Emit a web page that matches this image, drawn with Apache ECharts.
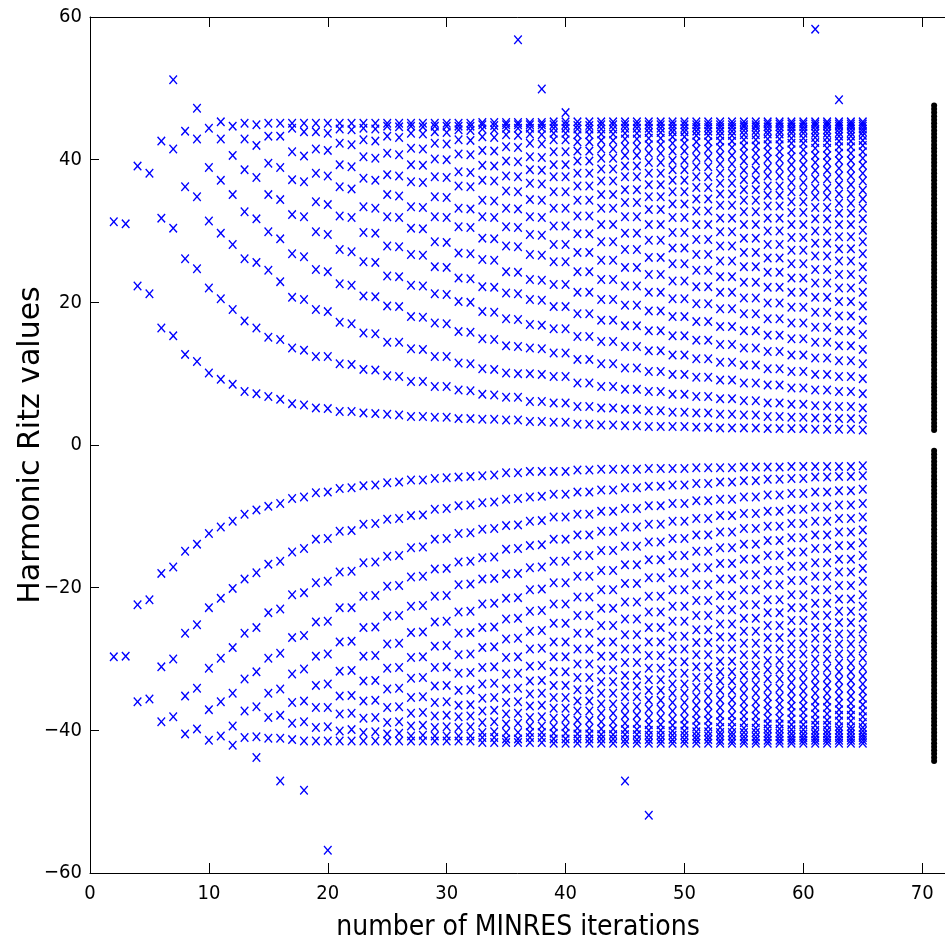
<!DOCTYPE html>
<html>
<head>
<meta charset="utf-8">
<script src="https://cdn.jsdelivr.net/npm/echarts@6/dist/echarts.min.js"></script>
<style>
html,body{margin:0;padding:0;background:#fff;}
#chart{width:945px;height:943px;}
</style>
</head>
<body>
<div id="chart"></div>
<script>
// MINRES iteration numbers (x positions of the Ritz-value columns)
const iterations = [2,3,4,5,6,7,8,9,10,11,12,13,14,15,16,17,18,19,20,21,22,23,24,25,26,27,28,29,30,31,32,33,34,35,36,37,38,39,40,41,42,43,44,45,46,47,48,49,50,51,52,53,54,55,56,57,58,59,60,61,62,63,64,65];

// positive harmonic Ritz values, one list per iteration (same order as iterations)
const posRitz = [
[31.3],
[31.0],
[39.1,22.3],
[38.1,21.2],
[42.6,31.8,16.4],
[51.2,41.5,30.4,15.3],
[44.0,36.2,26.1,12.7],
[47.2,42.9,34.8,24.7,11.7],
[44.4,38.9,31.4,22.0,10.1],
[45.3,42.9,37.1,29.7,20.5,9.2],
[44.7,40.6,35.1,28.1,19.0,8.5],
[45.1,42.9,38.6,32.7,26.1,17.4,7.5],
[44.9,42.0,37.5,31.7,25.6,16.4,7.2],
[45.1,43.3,39.5,35.1,29.9,24.5,15.1,6.8],
[45.1,43.3,38.9,34.4,28.9,22.9,14.8,6.4],
[45.1,44.4,41.1,37.2,32.3,26.8,20.7,13.6,5.8],
[45.1,43.9,40.5,36.9,32.0,26.4,20.4,13.3,5.6],
[45.1,43.9,41.5,38.1,34.1,29.9,24.6,19.0,12.4,5.2],
[45.1,43.7,41.3,37.7,33.7,29.5,24.3,18.7,12.4,5.1],
[45.1,44.3,42.3,39.3,36.2,32.1,27.4,22.6,17.2,11.4,4.7],
[45.1,44.2,42.1,39.0,35.9,31.9,27.1,22.4,17.0,11.3,4.7],
[45.1,44.4,42.8,40.4,37.4,33.4,29.8,25.7,20.9,15.7,10.6,4.5],
[45.1,44.3,42.6,40.2,37.1,33.2,29.7,25.6,20.8,15.6,10.5,4.4],
[45.1,44.7,43.3,40.9,37.9,35.1,32.0,27.9,23.7,19.5,14.4,9.7,4.3],
[45.1,44.6,43.1,40.7,37.7,34.9,31.9,27.8,23.6,19.4,14.4,9.6,4.2],
[45.1,44.7,43.7,41.6,39.3,36.9,33.4,30.4,26.7,22.4,18.0,13.5,8.9,4.0],
[45.1,44.6,43.6,41.5,39.2,36.8,33.3,30.3,26.6,22.3,17.9,13.4,8.9,4.0],
[45.1,44.7,43.9,42.3,40.1,37.6,34.8,32.0,28.5,25.0,21.2,17.1,12.4,8.2,3.9],
[45.1,44.7,43.8,42.2,40.0,37.5,34.7,31.9,28.4,24.9,21.1,17.0,12.4,8.2,3.9],
[45.1,44.7,44.2,42.8,40.8,38.3,36.3,33.2,30.6,26.9,23.4,20.1,15.9,11.5,7.7,3.7],
[45.1,44.7,44.1,42.7,40.7,38.2,36.2,33.1,30.5,26.8,23.3,20.0,15.8,11.4,7.6,3.7],
[45.2,44.9,44.3,43.2,41.3,39.2,37.1,34.3,32.0,29.0,26.0,22.2,18.7,14.9,10.7,7.1,3.6],
[45.2,44.8,44.2,43.1,41.2,39.1,37.0,34.2,31.9,28.9,25.9,22.1,18.6,14.8,10.6,7.0,3.6],
[45.2,44.9,44.4,43.5,41.8,39.8,37.7,35.6,33.2,30.6,27.9,24.3,21.3,17.7,13.9,10.1,6.7,3.5],
[56.8,45.2,44.9,44.4,43.4,41.7,39.7,37.6,35.5,33.1,30.5,27.8,24.2,21.2,17.6,13.8,10.0,6.7,3.5],
[45.2,44.9,44.4,43.6,42.3,40.4,38.6,36.7,34.4,32.0,29.5,26.7,23.2,20.4,16.9,13.6,10.0,6.1,3.3],
[49.9,45.2,44.9,44.4,43.5,42.2,40.3,38.5,36.6,34.3,31.9,29.4,26.6,23.1,20.3,16.8,13.5,9.9,6.1,3.3],
[45.3,44.9,44.4,43.7,42.8,41.1,39.3,37.6,35.5,33.2,30.7,28.1,25.7,22.5,19.4,16.3,12.9,9.6,5.9,3.2],
[46.6,45.3,44.9,44.4,43.7,42.8,41.1,39.3,37.6,35.5,33.2,30.7,28.1,25.7,22.5,19.4,16.3,12.9,9.6,5.9,3.2],
[45.3,44.8,44.3,43.5,42.5,41.2,39.8,38.1,36.3,34.3,32.1,29.6,27.0,24.3,21.4,18.4,15.2,12.0,8.7,5.4,2.9],
[45.3,44.8,44.3,43.5,42.5,41.2,39.8,38.1,36.3,34.3,32.1,29.6,27.0,24.3,21.4,18.4,15.2,12.0,8.7,5.4,2.9],
[45.3,44.9,44.3,43.6,42.7,41.5,40.2,38.7,37.0,35.1,33.2,30.9,28.5,25.9,23.2,20.4,17.5,14.5,11.4,8.2,5.2,2.8],
[45.3,44.9,44.3,43.6,42.7,41.5,40.2,38.7,37.0,35.1,33.2,30.9,28.5,25.9,23.2,20.4,17.5,14.5,11.4,8.2,5.2,2.8],
[45.3,44.9,44.4,43.7,42.9,41.8,40.6,39.1,37.6,35.8,34.0,32.0,29.7,27.4,24.9,22.3,19.6,16.7,13.8,10.8,7.8,5.0,2.7],
[45.3,44.9,44.4,43.7,42.9,41.8,40.6,39.1,37.6,35.8,34.0,32.0,29.7,27.4,24.9,22.3,19.6,16.7,13.8,10.8,7.8,5.0,2.7],
[45.3,44.9,44.4,43.8,43.0,42.1,40.9,39.6,38.1,36.5,34.8,33.0,30.9,28.7,26.3,23.9,21.4,18.8,16.0,13.2,10.3,7.5,4.8,2.6],
[45.3,44.9,44.4,43.8,43.0,42.1,40.9,39.6,38.1,36.5,34.8,33.0,30.9,28.7,26.3,23.9,21.4,18.8,16.0,13.2,10.3,7.5,4.8,2.6],
[45.3,44.9,44.4,43.9,43.2,42.3,41.2,39.9,38.6,37.1,35.5,33.8,31.9,29.8,27.6,25.4,23.0,20.5,18.0,15.3,12.6,9.9,7.1,4.6,2.6],
[45.3,44.9,44.4,43.9,43.2,42.3,41.2,39.9,38.6,37.1,35.5,33.8,31.9,29.8,27.6,25.4,23.0,20.5,18.0,15.3,12.6,9.9,7.1,4.6,2.6],
[45.3,44.9,44.5,44.0,43.4,42.5,41.5,40.3,39.0,37.6,36.1,34.5,32.8,30.9,28.8,26.7,24.5,22.2,19.8,17.3,14.7,12.1,9.5,6.8,4.5,2.5],
[45.3,44.9,44.5,44.0,43.4,42.5,41.5,40.3,39.0,37.6,36.1,34.5,32.8,30.9,28.8,26.7,24.5,22.2,19.8,17.3,14.7,12.1,9.5,6.8,4.5,2.5],
[45.3,44.9,44.5,44.0,43.4,42.6,41.7,40.6,39.4,38.1,36.7,35.2,33.6,31.8,29.9,27.9,25.8,23.6,21.4,19.1,16.6,14.1,11.6,9.1,6.5,4.3,2.4],
[45.3,44.9,44.5,44.0,43.4,42.6,41.7,40.6,39.4,38.1,36.7,35.2,33.6,31.8,29.9,27.9,25.8,23.6,21.4,19.1,16.6,14.1,11.6,9.1,6.5,4.3,2.4],
[45.3,44.9,44.6,44.1,43.5,42.8,41.9,40.9,39.8,38.5,37.2,35.8,34.3,32.7,30.9,29.0,27.0,25.0,22.8,20.6,18.4,16.0,13.6,11.2,8.7,6.2,4.2,2.4],
[45.3,44.9,44.6,44.1,43.5,42.8,41.9,40.9,39.8,38.5,37.2,35.8,34.3,32.7,30.9,29.0,27.0,25.0,22.8,20.6,18.4,16.0,13.6,11.2,8.7,6.2,4.2,2.4],
[45.3,45.0,44.6,44.1,43.6,42.9,42.1,41.1,40.1,38.9,37.7,36.3,35.0,33.5,31.8,30.0,28.1,26.2,24.2,22.1,19.9,17.7,15.4,13.1,10.7,8.4,5.9,4.0,2.3],
[45.3,45.0,44.6,44.1,43.6,42.9,42.1,41.1,40.1,38.9,37.7,36.3,35.0,33.5,31.8,30.0,28.1,26.2,24.2,22.1,19.9,17.7,15.4,13.1,10.7,8.4,5.9,4.0,2.3],
[45.3,45.0,44.6,44.2,43.7,43.0,42.3,41.4,40.4,39.3,38.1,36.8,35.5,34.1,32.6,30.9,29.1,27.3,25.4,23.4,21.4,19.3,17.1,14.9,12.6,10.3,8.0,5.7,3.9,2.3],
[45.3,45.0,44.6,44.2,43.7,43.0,42.3,41.4,40.4,39.3,38.1,36.8,35.5,34.1,32.6,30.9,29.1,27.3,25.4,23.4,21.4,19.3,17.1,14.9,12.6,10.3,8.0,5.7,3.9,2.3],
[58.3,45.3,45.0,44.7,44.2,43.7,43.1,42.4,41.6,40.6,39.6,38.5,37.3,36.0,34.8,33.3,31.7,30.0,28.3,26.5,24.6,22.7,20.7,18.6,16.5,14.4,12.2,9.9,7.7,5.5,3.8,2.2],
[45.3,45.0,44.7,44.2,43.7,43.1,42.4,41.6,40.6,39.6,38.5,37.3,36.0,34.8,33.3,31.7,30.0,28.3,26.5,24.6,22.7,20.7,18.6,16.5,14.4,12.2,9.9,7.7,5.5,3.8,2.2],
[48.4,45.3,45.0,44.7,44.3,43.8,43.3,42.6,41.8,40.9,39.9,38.8,37.7,36.5,35.2,33.9,32.5,30.9,29.2,27.5,25.8,23.9,22.0,20.1,18.1,16.0,13.9,11.8,9.6,7.5,5.4,3.7,2.2],
[45.3,45.0,44.7,44.3,43.8,43.3,42.6,41.8,40.9,39.9,38.8,37.7,36.5,35.2,33.9,32.5,30.9,29.2,27.5,25.8,23.9,22.0,20.1,18.1,16.0,13.9,11.8,9.6,7.5,5.4,3.7,2.2],
[45.3,45.0,44.7,44.3,43.9,43.4,42.7,42.0,41.1,40.2,39.2,38.1,37.0,35.7,34.5,33.2,31.7,30.1,28.5,26.8,25.0,23.2,21.4,19.5,17.5,15.5,13.4,11.4,9.3,7.2,5.2,3.6,2.1]
];

// negative harmonic Ritz values, one list per iteration
const negRitz = [
[-29.7],
[-29.6],
[-22.4,-36.0],
[-21.7,-35.6],
[-18.0,-31.1,-38.8],
[-17.1,-30.0,-38.1],
[-14.9,-26.4,-35.2,-40.5],
[-13.9,-25.2,-34.1,-39.8],
[-12.4,-22.8,-31.3,-37.1,-41.4],
[-11.5,-21.5,-29.9,-36.0,-40.8],
[-10.7,-20.1,-28.4,-34.8,-39.4,-42.1],
[-9.7,-18.8,-26.4,-32.8,-37.3,-41.0],
[-9.1,-17.9,-25.6,-31.8,-36.7,-40.9,-43.8],
[-8.6,-16.7,-23.5,-29.9,-34.8,-38.2,-41.1],
[-8.2,-16.3,-23.0,-29.2,-34.2,-37.9,-41.1,-47.1],
[-7.5,-15.0,-21.0,-27.0,-32.1,-36.1,-39.0,-41.3],
[-7.3,-14.5,-20.7,-26.7,-31.4,-35.9,-38.8,-41.5,-48.4],
[-6.7,-13.2,-19.3,-24.8,-29.6,-33.7,-36.8,-39.6,-41.5],
[-6.6,-13.1,-19.1,-24.7,-29.3,-33.5,-36.8,-39.5,-41.5,-56.8],
[-6.1,-12.1,-17.8,-22.8,-27.6,-31.7,-35.2,-37.7,-40.1,-41.5],
[-6.0,-12.0,-17.7,-22.8,-27.5,-31.6,-35.1,-37.6,-39.9,-41.5],
[-5.7,-11.1,-16.5,-21.2,-25.6,-29.6,-33.1,-35.9,-38.3,-40.3,-41.5],
[-5.6,-11.0,-16.4,-21.1,-25.5,-29.5,-33.0,-35.8,-38.2,-40.2,-41.5],
[-5.3,-10.4,-15.6,-19.8,-24.0,-27.9,-31.3,-34.2,-36.8,-38.9,-40.5,-41.5],
[-5.2,-10.3,-15.5,-19.7,-23.9,-27.8,-31.2,-34.1,-36.7,-38.8,-40.4,-41.5],
[-4.9,-9.9,-14.4,-18.5,-22.6,-26.3,-29.8,-32.7,-35.4,-37.6,-39.4,-40.8,-41.5],
[-4.9,-9.8,-14.3,-18.4,-22.5,-26.2,-29.7,-32.6,-35.3,-37.5,-39.3,-40.7,-41.5],
[-4.7,-9.0,-13.2,-17.4,-21.2,-24.8,-28.2,-31.2,-33.8,-36.1,-38.0,-39.6,-40.8,-41.5],
[-4.6,-8.9,-13.1,-17.3,-21.1,-24.7,-28.1,-31.1,-33.7,-36.0,-37.9,-39.5,-40.8,-41.5],
[-4.5,-8.5,-12.4,-16.4,-19.6,-23.4,-26.4,-29.4,-32.0,-34.4,-36.5,-38.1,-39.6,-40.8,-41.5],
[-4.4,-8.4,-12.3,-16.3,-19.5,-23.3,-26.3,-29.3,-31.9,-34.3,-36.4,-38.0,-39.5,-40.8,-41.5],
[-4.3,-8.1,-11.8,-15.8,-18.8,-22.3,-25.6,-28.4,-31.2,-33.5,-35.5,-37.3,-38.9,-40.3,-41.0,-41.7],
[-4.2,-8.0,-11.7,-15.7,-18.7,-22.2,-25.5,-28.3,-31.1,-33.4,-35.4,-37.2,-38.8,-40.2,-41.0,-41.7],
[-3.9,-7.6,-11.3,-14.6,-18.1,-21.5,-24.4,-27.2,-29.8,-32.1,-34.2,-36.1,-37.7,-39.1,-40.3,-41.2,-41.7],
[-3.9,-7.5,-11.2,-14.5,-18.0,-21.4,-24.3,-27.1,-29.7,-32.0,-34.1,-36.0,-37.6,-39.0,-40.3,-41.2,-41.7],
[-3.7,-7.3,-10.7,-14.1,-17.2,-20.3,-23.3,-26.1,-28.6,-31.0,-33.1,-34.9,-36.6,-38.2,-39.4,-40.3,-41.0,-41.7],
[-3.7,-7.2,-10.6,-14.0,-17.1,-20.2,-23.2,-26.0,-28.5,-30.9,-33.0,-34.8,-36.5,-38.1,-39.4,-40.3,-41.0,-41.7],
[-3.7,-6.9,-10.1,-13.2,-16.3,-19.3,-22.3,-25.0,-27.6,-29.7,-31.8,-33.7,-35.4,-36.9,-38.3,-39.5,-40.4,-41.2,-41.8],
[-3.7,-6.9,-10.1,-13.2,-16.3,-19.3,-22.3,-25.0,-27.6,-29.7,-31.8,-33.7,-35.4,-36.9,-38.3,-39.5,-40.4,-41.2,-41.8],
[-3.5,-6.6,-9.7,-12.6,-15.5,-18.4,-21.3,-23.9,-26.4,-28.6,-30.7,-32.6,-34.3,-35.9,-37.3,-38.6,-39.7,-40.5,-41.2,-41.8],
[-3.5,-6.6,-9.7,-12.6,-15.5,-18.4,-21.3,-23.9,-26.4,-28.6,-30.7,-32.6,-34.3,-35.9,-37.3,-38.6,-39.7,-40.5,-41.2,-41.8],
[-3.4,-6.3,-9.3,-12.1,-14.8,-17.6,-20.3,-22.9,-25.3,-27.6,-29.6,-31.5,-33.2,-34.8,-36.3,-37.6,-38.8,-39.8,-40.6,-41.2,-41.8],
[-3.4,-6.3,-9.3,-12.1,-14.8,-17.6,-20.3,-22.9,-25.3,-27.6,-29.6,-31.5,-33.2,-34.8,-36.3,-37.6,-38.8,-39.8,-40.6,-41.2,-41.8],
[-3.4,-6.0,-8.9,-11.5,-14.2,-16.8,-19.4,-22.0,-24.4,-26.6,-28.6,-30.5,-32.3,-33.8,-35.3,-36.7,-37.9,-39.0,-39.9,-40.6,-41.3,-41.8,-47.1],
[-3.4,-6.0,-8.9,-11.5,-14.2,-16.8,-19.4,-22.0,-24.4,-26.6,-28.6,-30.5,-32.3,-33.8,-35.3,-36.7,-37.9,-39.0,-39.9,-40.6,-41.3,-41.8],
[-3.3,-5.8,-8.5,-11.1,-13.6,-16.1,-18.6,-21.2,-23.4,-25.6,-27.6,-29.5,-31.3,-32.9,-34.4,-35.8,-37.0,-38.2,-39.2,-40.0,-40.7,-41.3,-41.8,-51.9],
[-3.3,-5.8,-8.5,-11.1,-13.6,-16.1,-18.6,-21.2,-23.4,-25.6,-27.6,-29.5,-31.3,-32.9,-34.4,-35.8,-37.0,-38.2,-39.2,-40.0,-40.7,-41.3,-41.8],
[-3.3,-5.6,-8.2,-10.7,-13.1,-15.5,-17.9,-20.3,-22.6,-24.7,-26.8,-28.6,-30.4,-32.0,-33.5,-34.8,-36.1,-37.3,-38.4,-39.3,-40.1,-40.7,-41.3,-41.8],
[-3.3,-5.6,-8.2,-10.7,-13.1,-15.5,-17.9,-20.3,-22.6,-24.7,-26.8,-28.6,-30.4,-32.0,-33.5,-34.8,-36.1,-37.3,-38.4,-39.3,-40.1,-40.7,-41.3,-41.8],
[-3.2,-5.4,-7.8,-10.3,-12.6,-14.9,-17.2,-19.6,-21.8,-23.9,-25.9,-27.7,-29.4,-31.1,-32.6,-34.0,-35.3,-36.5,-37.6,-38.6,-39.5,-40.2,-40.8,-41.3,-41.8],
[-3.2,-5.4,-7.8,-10.3,-12.6,-14.9,-17.2,-19.6,-21.8,-23.9,-25.9,-27.7,-29.4,-31.1,-32.6,-34.0,-35.3,-36.5,-37.6,-38.6,-39.5,-40.2,-40.8,-41.3,-41.8],
[-3.2,-5.2,-7.6,-9.9,-12.2,-14.4,-16.6,-18.8,-21.1,-23.1,-25.1,-26.9,-28.6,-30.3,-31.8,-33.1,-34.4,-35.7,-36.8,-37.9,-38.8,-39.6,-40.3,-40.8,-41.4,-41.8],
[-3.2,-5.2,-7.6,-9.9,-12.2,-14.4,-16.6,-18.8,-21.1,-23.1,-25.1,-26.9,-28.6,-30.3,-31.8,-33.1,-34.4,-35.7,-36.8,-37.9,-38.8,-39.6,-40.3,-40.8,-41.4,-41.8],
[-3.1,-5.0,-7.3,-9.6,-11.7,-13.9,-16.0,-18.2,-20.3,-22.4,-24.3,-26.1,-27.8,-29.4,-30.9,-32.3,-33.6,-34.8,-36.0,-37.0,-38.0,-38.9,-39.7,-40.3,-40.9,-41.4,-41.8],
[-3.1,-5.0,-7.3,-9.6,-11.7,-13.9,-16.0,-18.2,-20.3,-22.4,-24.3,-26.1,-27.8,-29.4,-30.9,-32.3,-33.6,-34.8,-36.0,-37.0,-38.0,-38.9,-39.7,-40.3,-40.9,-41.4,-41.8],
[-3.1,-4.8,-7.0,-9.3,-11.4,-13.4,-15.5,-17.6,-19.6,-21.7,-23.5,-25.3,-27.0,-28.6,-30.2,-31.5,-32.8,-34.1,-35.3,-36.3,-37.3,-38.3,-39.1,-39.8,-40.4,-40.9,-41.4,-41.8],
[-3.1,-4.8,-7.0,-9.3,-11.4,-13.4,-15.5,-17.6,-19.6,-21.7,-23.5,-25.3,-27.0,-28.6,-30.2,-31.5,-32.8,-34.1,-35.3,-36.3,-37.3,-38.3,-39.1,-39.8,-40.4,-40.9,-41.4,-41.8],
[-3.0,-4.7,-6.8,-9.0,-11.0,-13.0,-15.0,-17.0,-19.0,-21.0,-22.8,-24.6,-26.3,-27.9,-29.3,-30.8,-32.1,-33.3,-34.5,-35.6,-36.6,-37.5,-38.4,-39.2,-39.9,-40.5,-41.0,-41.4,-41.8],
[-3.0,-4.7,-6.8,-9.0,-11.0,-13.0,-15.0,-17.0,-19.0,-21.0,-22.8,-24.6,-26.3,-27.9,-29.3,-30.8,-32.1,-33.3,-34.5,-35.6,-36.6,-37.5,-38.4,-39.2,-39.9,-40.5,-41.0,-41.4,-41.8],
[-3.0,-4.5,-6.6,-8.7,-10.7,-12.6,-14.5,-16.5,-18.4,-20.3,-22.2,-23.9,-25.6,-27.1,-28.6,-30.0,-31.3,-32.6,-33.7,-34.8,-35.9,-36.8,-37.7,-38.6,-39.3,-40.0,-40.5,-41.0,-41.4,-41.8],
[-3.0,-4.5,-6.6,-8.7,-10.7,-12.6,-14.5,-16.5,-18.4,-20.3,-22.2,-23.9,-25.6,-27.1,-28.6,-30.0,-31.3,-32.6,-33.7,-34.8,-35.9,-36.8,-37.7,-38.6,-39.3,-40.0,-40.5,-41.0,-41.4,-41.8],
[-3.0,-4.4,-6.4,-8.4,-10.3,-12.2,-14.1,-16.0,-17.8,-19.7,-21.6,-23.3,-24.9,-26.5,-27.9,-29.3,-30.6,-31.8,-33.0,-34.1,-35.2,-36.2,-37.1,-37.9,-38.7,-39.5,-40.0,-40.5,-41.0,-41.4,-41.8],
[-3.0,-4.4,-6.4,-8.4,-10.3,-12.2,-14.1,-16.0,-17.8,-19.7,-21.6,-23.3,-24.9,-26.5,-27.9,-29.3,-30.6,-31.8,-33.0,-34.1,-35.2,-36.2,-37.1,-37.9,-38.7,-39.5,-40.0,-40.5,-41.0,-41.4,-41.8],
[-2.9,-4.3,-6.2,-8.2,-10.1,-11.9,-13.7,-15.5,-17.3,-19.1,-21.0,-22.6,-24.2,-25.8,-27.2,-28.6,-29.9,-31.2,-32.4,-33.5,-34.5,-35.5,-36.4,-37.3,-38.1,-38.9,-39.6,-40.1,-40.6,-41.0,-41.4,-41.8]
];

// eigenvalues of the matrix, plotted as a column of dots at x = eigenColumn
const eigenColumn = 71;
const eigenPos = [2.1,2.6,3.1,3.6,4.1,4.6,5.1,5.6,6.1,6.6,7.1,7.6,8.1,8.6,9.1,9.6,10.1,10.6,11.1,11.6,12.1,12.6,13.1,13.6,14.1,14.6,15.1,15.6,16.1,16.6,17.1,17.6,18.1,18.6,19.1,19.6,20.1,20.6,21.1,21.6,22.1,22.6,23.1,23.6,24.1,24.6,25.1,25.6,26.1,26.6,27.1,27.6,28.1,28.6,29.1,29.6,30.1,30.6,31.1,31.6,32.1,32.6,33.1,33.6,34.1,34.6,35.1,35.6,36.1,36.6,37.1,37.6,38.1,38.6,39.1,39.6,40.1,40.6,41.1,41.6,42.1,42.6,43.1,43.6,44.1,44.6,45.1,45.6,46.1,46.6,47.1,47.6];
const eigenNeg = [-0.8,-1.3,-1.8,-2.3,-2.8,-3.3,-3.8,-4.3,-4.8,-5.3,-5.8,-6.3,-6.8,-7.3,-7.8,-8.3,-8.8,-9.3,-9.8,-10.3,-10.8,-11.3,-11.8,-12.3,-12.8,-13.3,-13.8,-14.3,-14.8,-15.3,-15.8,-16.3,-16.8,-17.3,-17.8,-18.3,-18.8,-19.3,-19.8,-20.3,-20.8,-21.3,-21.8,-22.3,-22.8,-23.3,-23.8,-24.3,-24.8,-25.3,-25.8,-26.3,-26.8,-27.3,-27.8,-28.3,-28.8,-29.3,-29.8,-30.3,-30.8,-31.3,-31.8,-32.3,-32.8,-33.3,-33.8,-34.3,-34.8,-35.3,-35.8,-36.3,-36.8,-37.3,-37.8,-38.3,-38.8,-39.3,-39.8,-40.3,-40.8,-41.3,-41.8,-42.3,-42.8,-43.3,-43.8,-44.3];

// axis ticks
const xTickValues = [0,10,20,30,40,50,60,70];
const yTickValues = [-60,-40,-20,0,20,40,60];

const ritzData = [];
iterations.forEach((it, i) => {
  posRitz[i].forEach(v => ritzData.push([it, v]));
  negRitz[i].forEach(v => ritzData.push([it, v]));
});
const eigenData = eigenPos.concat(eigenNeg).map(v => [eigenColumn, v]);

const LABEL_FONT = "'Liberation Sans Narrow','DejaVu Sans Condensed','Liberation Sans',sans-serif";
const XMARK = 'path://M0,1.1L1.1,0L5,3.9L8.9,0L10,1.1L6.1,5L10,8.9L8.9,10L5,6.1L1.1,10L0,8.9L3.9,5Z';
const AXLINE = {show: true, onZero: false, lineStyle: {color: '#000', width: 1}};

const chart = echarts.init(document.getElementById('chart'), null, {renderer: 'canvas'});
chart.setOption({
  animation: false,
  backgroundColor: '#ffffff',
  // the frame's right edge sits just past the picture's right edge
  grid: {left: 90, top: 17, right: -1, bottom: 70, containLabel: false, outerBoundsMode: 'none'},
  xAxis: [
    {
      type: 'value', min: 0, max: 72, interval: 10, position: 'bottom',
      axisLine: AXLINE,
      axisTick: {show: true, inside: true, length: 10, lineStyle: {color: '#000', width: 1}},
      axisLabel: {
        color: '#000', fontSize: 20, fontFamily: LABEL_FONT, margin: 11,
        formatter: v => xTickValues.indexOf(v) >= 0 ? String(v) : ''
      },
      splitLine: {show: false},
      name: 'number of MINRES iterations', nameLocation: 'middle', nameGap: 41,
      nameMoveOverlap: false,
      nameTextStyle: {color: '#000', fontSize: 28, fontFamily: LABEL_FONT}
    },
    {
      type: 'value', min: 0, max: 72, interval: 10, position: 'top',
      axisLine: AXLINE,
      axisTick: {show: true, inside: true, length: 10, lineStyle: {color: '#000', width: 1}},
      axisLabel: {show: false},
      splitLine: {show: false}
    }
  ],
  yAxis: {
    type: 'value', min: -60, max: 60, interval: 20, position: 'left',
    axisLine: AXLINE,
    axisTick: {show: true, inside: true, length: 9, lineStyle: {color: '#000', width: 1}},
    axisLabel: {
      color: '#000', fontSize: 20, fontFamily: LABEL_FONT, margin: 8,
      formatter: v => yTickValues.indexOf(v) >= 0 ? (v < 0 ? '\u2212' + (-v) : String(v)) : ''
    },
    splitLine: {show: false},
    name: 'Harmonic Ritz values', nameLocation: 'middle', nameGap: 44,
    nameMoveOverlap: false,
    nameTextStyle: {color: '#000', fontSize: 30, fontFamily: "'DejaVu Sans',sans-serif"}
  },
  series: [
    {
      type: 'scatter', data: ritzData, symbol: XMARK, symbolSize: [8.5, 9.5],
      itemStyle: {color: '#0000ff', opacity: 1}, silent: true, z: 2
    },
    {
      type: 'scatter', data: eigenData, symbol: 'circle', symbolSize: 6,
      itemStyle: {color: '#000000', opacity: 1}, silent: true, z: 3
    }
  ]
});
</script>
</body>
</html>
